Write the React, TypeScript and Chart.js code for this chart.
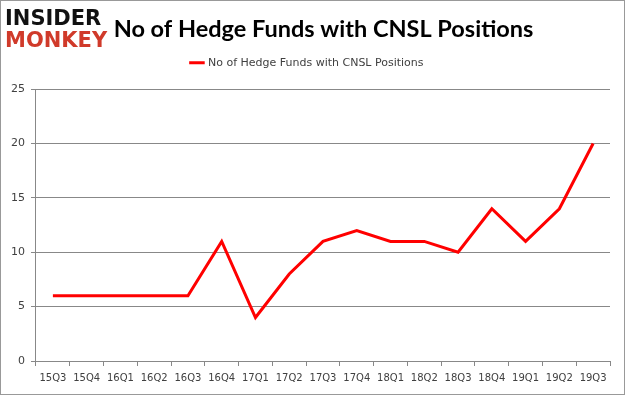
import React, { useEffect, useRef } from "react";
import { Chart, registerables } from "chart.js";

Chart.register(...registerables);

const categories = ["15Q3", "15Q4", "16Q1", "16Q2", "16Q3", "16Q4", "17Q1", "17Q2", "17Q3", "17Q4", "18Q1", "18Q2", "18Q3", "18Q4", "19Q1", "19Q2", "19Q3"];
const hedgeFunds = [6, 6, 6, 6, 6, 11, 4, 8, 11, 12, 11, 11, 10, 14, 11, 14, 20];
const seriesLabel = "No of Hedge Funds with CNSL Positions";
const chartTitle = "No of Hedge Funds with CNSL Positions";

const layoutTweaks = {
  id: "layoutTweaks",
  beforeInit(chart: any) {
    const legend = chart.legend;
    if (legend) {
      const origFit = legend.fit;
      legend.fit = function () {
        origFit.call(this);
        this.height += 11;
      };
    }
  },
  afterLayout(chart: any) {
    const t = chart.titleBlock;
    if (t) {
      t.left += 16;
      t.right += 16;
    }
  },
};

export default function App() {
  const canvasRef = useRef<HTMLCanvasElement | null>(null);

  useEffect(() => {
    document.body.style.margin = "0";
    const ctx = canvasRef.current!;
    const chart = new Chart(ctx, {
      type: "line",
      data: {
        labels: categories,
        datasets: [
          {
            label: seriesLabel,
            data: hedgeFunds,
            borderColor: "#ff0000",
            backgroundColor: "#ff0000",
            borderWidth: 3,
            pointRadius: 0,
            tension: 0,
          },
        ],
      },
      options: {
        animation: false,
        responsive: false,
        maintainAspectRatio: false,
        layout: { padding: { left: 4, right: 14, top: 8, bottom: 4 } },
        plugins: {
          title: {
            display: true,
            text: chartTitle,
            color: "#000000",
            font: { family: "Lato", size: 23.5, weight: "bold" },
            padding: { top: 6, bottom: 6 },
          },
          legend: {
            display: true,
            labels: {
              usePointStyle: true,
              pointStyle: "line",
              boxWidth: 28,
              color: "#404040",
              font: { family: "DejaVu Sans", size: 11 },
              padding: 8,
            },
          },
          tooltip: { enabled: false },
        },
        scales: {
          x: {
            offset: true,
            grid: {
              display: true,
              offset: true,
              drawOnChartArea: false,
              drawTicks: true,
              tickLength: 5,
              color: "#888888",
            },
            border: { display: true, color: "#888888" },
            ticks: {
              autoSkip: false,
              maxRotation: 0,
              color: "#404040",
              font: { family: "DejaVu Sans", size: 10 },
              padding: 6,
            },
          },
          y: {
            min: 0,
            max: 25,
            grid: {
              display: true,
              color: "#888888",
              drawTicks: true,
              tickLength: 5,
            },
            border: { display: true, color: "#888888" },
            ticks: {
              stepSize: 5,
              color: "#404040",
              font: { family: "DejaVu Sans", size: 11 },
              padding: 6,
            },
          },
        },
      },
      plugins: [layoutTweaks],
    });
    return () => chart.destroy();
  }, []);

  return (
    <div
      style={{
        position: "relative",
        width: 625,
        height: 395,
        boxSizing: "border-box",
        border: "1px solid #999999",
        background: "#ffffff",
        overflow: "hidden",
      }}
    >
      <canvas ref={canvasRef} width={623} height={393} style={{ display: "block" }} />
      <div
        style={{
          position: "absolute",
          left: 4,
          top: 6,
          fontFamily: "DejaVu Sans",
          fontWeight: "bold",
          lineHeight: "22px",
          fontSize: 21,
        }}
      >
        <div style={{ color: "#111111" }}>INSIDER</div>
        <div style={{ color: "#d03a2a" }}>MONKEY</div>
      </div>
    </div>
  );
}
